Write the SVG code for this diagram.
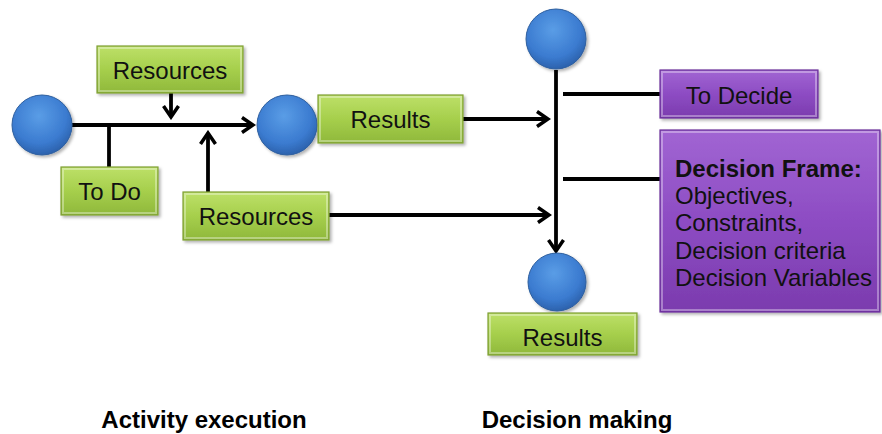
<svg xmlns="http://www.w3.org/2000/svg" width="882" height="434" viewBox="0 0 882 434">
  <defs>
    <radialGradient id="ballFill" cx="45%" cy="35%" r="65%">
      <stop offset="0" stop-color="#5a9de6"/>
      <stop offset="0.7" stop-color="#3b7bd0"/>
      <stop offset="1" stop-color="#2c62ad"/>
    </radialGradient>
    <linearGradient id="greenFill" x1="0" y1="0" x2="0" y2="1">
      <stop offset="0" stop-color="#bde068"/>
      <stop offset="0.5" stop-color="#a6cf4c"/>
      <stop offset="1" stop-color="#8fb83b"/>
    </linearGradient>
    <linearGradient id="purpleFill" x1="0" y1="0" x2="0" y2="1">
      <stop offset="0" stop-color="#a165d3"/>
      <stop offset="0.5" stop-color="#8d4cc3"/>
      <stop offset="1" stop-color="#7b3bae"/>
    </linearGradient>
    <filter id="shadow" x="-10%" y="-10%" width="125%" height="130%">
      <feDropShadow dx="2" dy="2" stdDeviation="1.5" flood-color="#000" flood-opacity="0.3"/>
    </filter>
    <marker id="arrow" markerWidth="16" markerHeight="18" refX="13" refY="9" orient="auto" markerUnits="userSpaceOnUse">
      <path d="M2,1.5 L13,9 L2,16.5" fill="none" stroke="#000" stroke-width="3.5" stroke-linejoin="miter"/>
    </marker>
  </defs>
  <style>
    .ball { fill: url(#ballFill); stroke: #2d5e9e; stroke-width: 1; filter: url(#shadow); }
    .green { fill: url(#greenFill); stroke: #7f9f35; stroke-width: 1.2; filter: url(#shadow); }
    .purple { fill: url(#purpleFill); stroke: #6a2f98; stroke-width: 1.2; filter: url(#shadow); }
    .bevel { fill: none; stroke: #ffffff; stroke-opacity: 0.35; stroke-width: 2; }
    .label { font-family: "Liberation Sans", Arial, sans-serif; font-size: 24px; fill: #111; text-anchor: middle; }
    .frame { font-family: "Liberation Sans", Arial, sans-serif; font-size: 24px; fill: #111; }
    .caption { font-family: "Liberation Sans", Arial, sans-serif; font-size: 24px; font-weight: bold; fill: #000; text-anchor: middle; }
    .wire { stroke: #000; stroke-width: 3.8; fill: none; }
  </style>

  <!-- connectors -->
  <g id="connectors">
    <line class="wire" x1="72" y1="125" x2="253" y2="125" marker-end="url(#arrow)"/>
    <line class="wire" x1="171" y1="93" x2="171" y2="117" marker-end="url(#arrow)"/>
    <line class="wire" x1="109" y1="125" x2="109" y2="167"/>
    <line class="wire" x1="208" y1="192" x2="208" y2="133" marker-end="url(#arrow)"/>
    <line class="wire" x1="463" y1="119" x2="548" y2="119" marker-end="url(#arrow)"/>
    <line class="wire" x1="329" y1="215" x2="549" y2="215" marker-end="url(#arrow)"/>
    <line class="wire" x1="556" y1="70" x2="556" y2="251" marker-end="url(#arrow)"/>
    <line class="wire" x1="563" y1="94" x2="660" y2="94"/>
    <line class="wire" x1="563" y1="179" x2="660" y2="179"/>
  </g>

  <!-- activity execution -->
  <g id="start">
    <circle class="ball" cx="42" cy="125" r="30"/>
  </g>
  <g id="resources-top">
    <rect class="green" x="97" y="46" width="146" height="47"/>
    <rect class="bevel" x="99" y="48" width="142" height="43"/>
    <text class="label" x="170" y="79">Resources</text>
  </g>
  <g id="todo">
    <rect class="green" x="61" y="167" width="97" height="48"/>
    <rect class="bevel" x="63" y="169" width="93" height="44"/>
    <text class="label" x="109.5" y="200">To Do</text>
  </g>
  <g id="resources-bottom">
    <rect class="green" x="183" y="192" width="146" height="48"/>
    <rect class="bevel" x="185" y="194" width="142" height="44"/>
    <text class="label" x="256" y="225">Resources</text>
  </g>
  <g id="activity-end">
    <circle class="ball" cx="287" cy="125" r="30"/>
  </g>
  <g id="results-activity">
    <rect class="green" x="318" y="95" width="145" height="48"/>
    <rect class="bevel" x="320" y="97" width="141" height="44"/>
    <text class="label" x="390.5" y="128">Results</text>
  </g>

  <!-- decision making -->
  <g id="decision-start">
    <circle class="ball" cx="556" cy="39" r="30"/>
  </g>
  <g id="to-decide">
    <rect class="purple" x="660" y="70" width="158" height="48"/>
    <rect class="bevel" x="662" y="72" width="154" height="44"/>
    <text class="label" x="739" y="104">To Decide</text>
  </g>
  <g id="decision-frame">
    <rect class="purple" x="660" y="130" width="220" height="182"/>
    <rect class="bevel" x="662" y="132" width="216" height="178"/>
    <text class="frame" x="675" y="177" font-weight="bold">Decision Frame:</text>
    <text class="frame" x="675" y="204">Objectives,</text>
    <text class="frame" x="675" y="231">Constraints,</text>
    <text class="frame" x="675" y="259">Decision criteria</text>
    <text class="frame" x="675" y="286">Decision Variables</text>
  </g>
  <g id="decision-end">
    <circle class="ball" cx="557" cy="282" r="29"/>
  </g>
  <g id="results-decision">
    <rect class="green" x="488" y="313" width="149" height="42"/>
    <rect class="bevel" x="490" y="315" width="145" height="38"/>
    <text class="label" x="562.5" y="346">Results</text>
  </g>

  <!-- captions -->
  <g id="captions">
    <text class="caption" x="204" y="428">Activity execution</text>
    <text class="caption" x="577" y="428">Decision making</text>
  </g>
</svg>
